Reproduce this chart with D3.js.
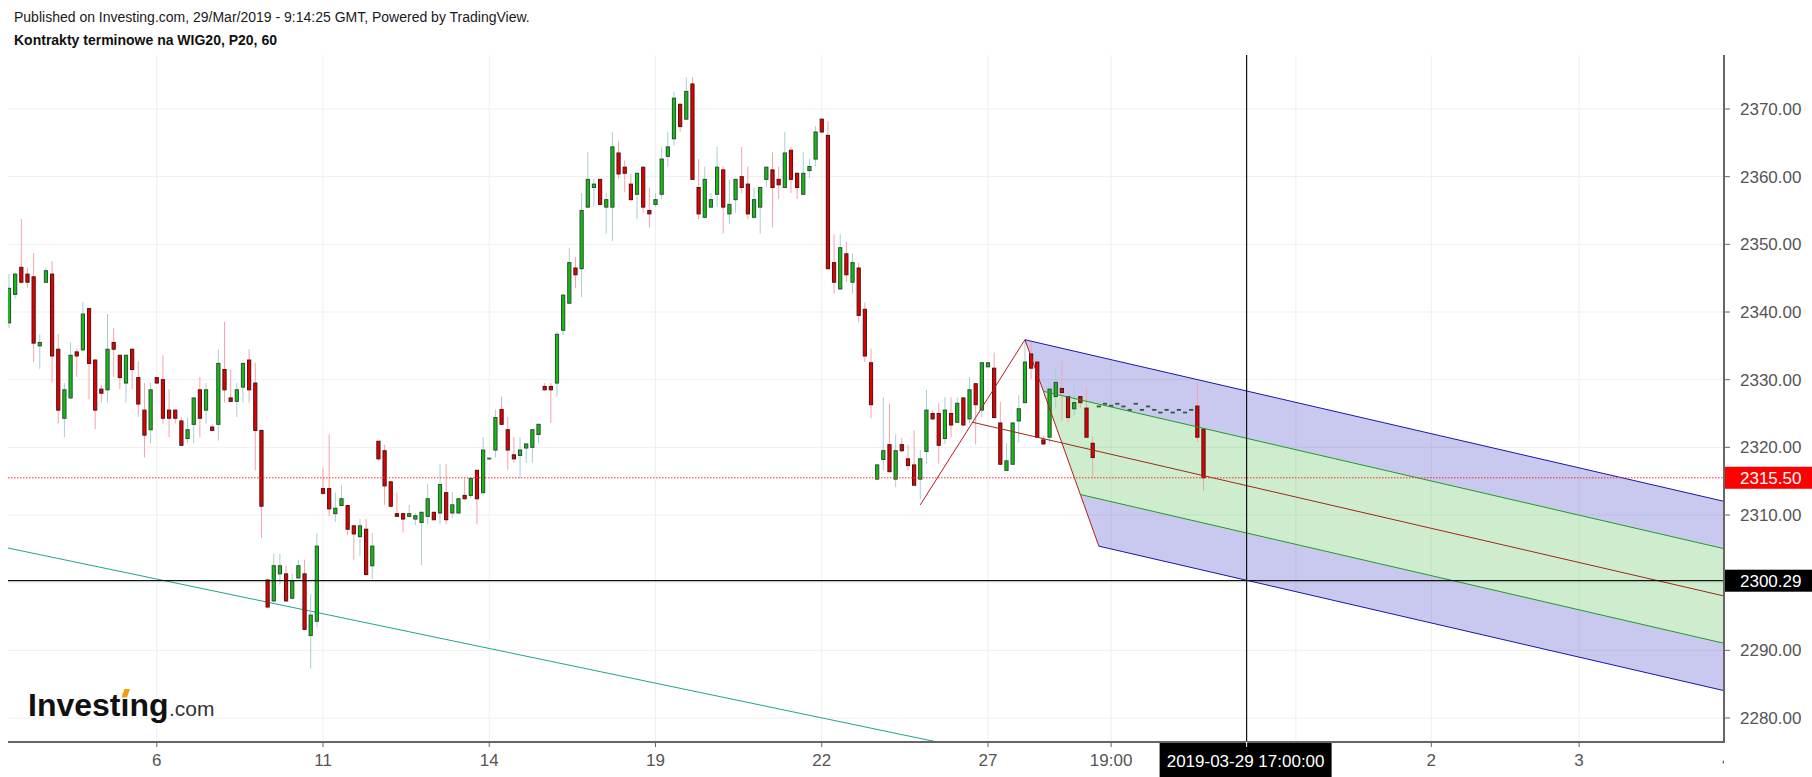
<!DOCTYPE html>
<html><head><meta charset="utf-8">
<script src="https://cdn.jsdelivr.net/npm/d3@7"></script>
<style>
html,body{margin:0;padding:0;background:#fff;}
svg{display:block;font-family:"Liberation Sans",Arial,sans-serif;}
</style></head><body>
<svg id="chart" width="1812" height="777"></svg>
<script>
// ---- data (hourly bars, index = bar number) ----
const opens = [2338.4,2342.6,2346.6,2345.6,2345.2,2335.0,2344.4,2345.6,2334.5,2324.3,2327.3,2334.1,2334.4,2340.5,2332.9,2328.6,2328.5,2335.5,2333.6,2329.5,2334.5,2330.3,2325.5,2322.6,2330.3,2330.0,2325.5,2325.5,2323.9,2321.3,2323.4,2328.5,2325.5,2323.0,2323.4,2331.5,2327.3,2326.8,2328.9,2332.9,2329.5,2322.5,2300.4,2297.3,2301.3,2301.3,2297.7,2300.7,2301.3,2292.2,2294.3,2313.9,2313.9,2310.2,2311.4,2311.4,2308.4,2306.8,2307.9,2302.5,2320.9,2319.5,2314.9,2310.2,2310.2,2309.8,2309.4,2308.9,2309.8,2310.4,2310.3,2313.3,2310.3,2310.3,2312.9,2312.9,2316.6,2313.3,2318.4,2319.6,2325.6,2322.6,2318.9,2318.8,2319.9,2320.0,2321.9,2329.0,2329.0,2329.5,2337.3,2341.3,2346.5,2346.4,2355.5,2358.4,2359.6,2355.5,2355.5,2363.5,2361.4,2358.9,2357.4,2361.4,2355.0,2355.9,2357.4,2363.0,2365.6,2370.7,2368.5,2373.7,2358.4,2354.0,2355.5,2357.4,2361.0,2354.5,2356.6,2360.0,2358.9,2354.0,2355.5,2359.6,2361.0,2359.6,2358.4,2363.9,2360.5,2357.4,2360.9,2362.6,2368.5,2366.1,2347.3,2343.4,2348.6,2344.4,2346.5,2340.4,2332.5,2315.3,2318.2,2320.4,2315.3,2320.4,2318.3,2317.4,2315.3,2319.4,2325.0,2325.0,2321.3,2325.0,2323.7,2327.3,2324.2,2329.4,2325.5,2331.9,2331.7,2323.6,2316.6,2317.5,2323.9,2326.6,2333.8,2332.6,2321.1,2321.5,2327.5,2328.7,2327.5,2325.7,2327.5,2325.8,2320.6,2326.1,2326.5,2326.2,2326.5,2326.1,2325.6,2326.5,2325.6,2326.1,2325.6,2325.2,2325.6,2325.2,2325.6,2325.2,2325.6,2326.1,2322.7];
const highs = [2345.6,2345.8,2353.7,2346.6,2348.7,2336.7,2346.6,2347.5,2336.7,2329.5,2335.5,2334.6,2341.5,2340.6,2333.0,2329.2,2339.7,2337.6,2333.7,2333.7,2334.6,2332.7,2329.5,2329.5,2330.4,2333.6,2328.6,2325.6,2324.4,2324.4,2327.4,2330.4,2329.5,2323.4,2334.5,2338.5,2331.5,2329.5,2332.5,2334.5,2332.5,2322.6,2300.5,2304.3,2304.3,2302.5,2301.3,2303.4,2303.4,2298.3,2307.3,2317.0,2321.9,2313.3,2314.4,2311.5,2308.5,2309.4,2309.4,2307.3,2321.0,2320.4,2315.0,2313.3,2310.3,2311.5,2310.3,2310.5,2314.6,2310.5,2317.5,2317.5,2313.4,2312.5,2315.4,2315.5,2316.7,2321.5,2318.4,2325.6,2327.5,2324.5,2321.5,2321.5,2320.5,2322.7,2323.5,2329.5,2329.5,2337.1,2342.6,2349.5,2348.1,2357.6,2363.6,2359.7,2359.7,2357.6,2366.6,2365.2,2362.4,2360.4,2360.6,2361.5,2358.4,2357.6,2364.4,2366.6,2372.6,2370.8,2374.7,2374.7,2362.6,2361.5,2357.6,2364.4,2361.5,2359.6,2359.7,2364.4,2361.5,2358.4,2358.5,2361.5,2363.6,2361.5,2366.6,2364.4,2360.6,2363.6,2362.6,2367.5,2368.6,2368.2,2351.5,2351.5,2350.4,2348.6,2347.3,2341.4,2334.6,2317.5,2327.4,2326.5,2321.9,2321.4,2320.4,2322.5,2319.6,2328.5,2325.5,2326.5,2327.4,2327.4,2327.4,2327.4,2330.4,2329.5,2332.6,2332.6,2334.0,2326.7,2320.6,2323.7,2327.7,2335.9,2335.6,2333.0,2321.7,2329.7,2331.7,2332.7,2327.6,2329.6,2327.6,2328.7,2321.6,2326.1,2326.5,2326.2,2326.5,2326.1,2325.6,2326.5,2325.6,2326.1,2325.6,2325.2,2325.6,2325.2,2325.6,2325.2,2325.6,2329.6,2322.8];
const lows = [2337.6,2342.0,2344.2,2343.6,2332.6,2331.6,2344.3,2329.6,2323.5,2321.5,2327.2,2330.4,2334.2,2327.1,2322.7,2326.6,2326.6,2330.4,2328.6,2326.6,2328.6,2324.5,2318.5,2320.6,2329.4,2323.5,2321.5,2323.5,2320.2,2320.6,2320.6,2321.5,2323.5,2322.4,2321.0,2326.6,2326.6,2324.5,2326.6,2326.6,2316.6,2306.6,2296.2,2297.0,2299.7,2297.2,2297.5,2300.6,2293.0,2287.3,2293.4,2313.0,2309.8,2309.0,2311.3,2307.0,2303.4,2303.9,2301.0,2300.5,2318.0,2311.5,2311.2,2309.7,2307.4,2309.7,2308.5,2302.6,2308.6,2309.2,2308.6,2308.6,2309.6,2310.2,2312.3,2312.5,2308.6,2313.2,2318.4,2318.5,2323.3,2316.7,2317.7,2315.4,2317.7,2317.7,2320.6,2328.4,2323.6,2327.5,2336.6,2341.2,2343.5,2342.2,2355.4,2355.6,2355.8,2351.6,2350.5,2359.7,2357.7,2356.5,2353.7,2354.7,2352.5,2355.5,2356.7,2361.5,2364.6,2366.6,2368.4,2359.5,2353.7,2353.9,2355.4,2355.5,2351.6,2353.0,2354.7,2357.6,2353.7,2353.7,2351.6,2358.5,2352.5,2356.7,2358.3,2357.6,2356.7,2357.3,2359.8,2361.5,2366.5,2346.3,2342.7,2343.3,2344.4,2342.7,2338.5,2332.6,2324.3,2315.2,2316.6,2316.3,2314.1,2319.3,2316.6,2314.3,2312.3,2317.6,2324.1,2317.6,2320.5,2321.5,2323.6,2323.2,2323.5,2320.4,2324.5,2331.8,2324.3,2317.4,2316.5,2317.4,2320.7,2326.5,2330.1,2321.4,2320.4,2320.7,2325.8,2323.8,2323.7,2324.7,2325.8,2321.4,2315.6,2326.1,2326.5,2326.2,2326.5,2326.1,2325.6,2326.5,2325.6,2326.1,2325.6,2325.2,2325.6,2325.2,2325.6,2325.2,2325.6,2320.7,2313.6];
const closes = [2343.5,2345.6,2344.4,2344.4,2335.4,2335.5,2346.1,2333.5,2325.5,2328.5,2333.6,2333.5,2339.7,2332.4,2325.5,2328.0,2334.5,2334.5,2330.3,2333.6,2331.5,2326.4,2321.8,2328.5,2329.5,2324.3,2324.3,2324.3,2320.3,2322.6,2327.3,2324.3,2328.5,2322.5,2332.4,2328.5,2326.8,2328.5,2332.4,2328.5,2322.5,2311.3,2296.4,2302.5,2302.5,2297.3,2300.3,2302.5,2293.1,2295.2,2305.4,2313.2,2310.9,2311.0,2312.4,2307.9,2307.2,2308.4,2301.2,2305.4,2318.3,2314.3,2311.3,2309.8,2309.4,2310.2,2309.9,2310.4,2312.4,2309.3,2314.5,2309.3,2311.5,2312.4,2312.4,2315.4,2312.4,2319.6,2318.4,2324.4,2323.4,2319.6,2318.3,2319.6,2320.5,2322.6,2323.4,2328.5,2328.5,2336.7,2342.5,2347.3,2345.5,2355.0,2359.6,2358.9,2355.9,2356.6,2364.4,2360.4,2360.5,2356.6,2360.5,2355.5,2354.5,2356.6,2362.6,2364.4,2371.6,2367.4,2372.6,2359.6,2354.5,2359.6,2356.6,2361.4,2355.5,2355.9,2359.6,2358.4,2354.5,2356.6,2358.4,2361.4,2358.4,2358.8,2363.5,2359.6,2358.4,2360.5,2361.5,2366.6,2366.6,2346.4,2344.4,2349.5,2345.5,2347.3,2339.5,2333.5,2326.3,2317.4,2319.5,2316.4,2319.5,2319.5,2317.3,2314.4,2318.3,2325.5,2324.2,2320.3,2325.5,2323.3,2326.5,2323.3,2328.5,2326.3,2332.5,2332.5,2324.4,2317.5,2318.0,2323.6,2325.7,2332.6,2331.7,2321.5,2320.5,2328.6,2329.6,2328.1,2324.4,2326.6,2326.6,2321.5,2318.5,2326.1,2326.5,2326.2,2326.5,2326.1,2325.6,2326.5,2325.6,2326.1,2325.6,2325.2,2325.6,2325.2,2325.6,2325.2,2325.6,2321.5,2315.5];

const yTicks = [2280, 2290, 2300, 2310, 2320, 2330, 2340, 2350, 2360, 2370];
const xTickIndex = [24, 51, 78, 105, 132, 159, 179, 231, 255, 279];
const xTickLabels = ["6", "11", "14", "19", "22", "27", "19:00", "2", "3", "4"];
const xGridExtra = [209];
const lastPrice = 2315.50;
const crossPrice = 2300.29;
const crossIndex = 201;
const crossLabel = "2019-03-29 17:00:00";
const trendIdx = [-1, 152];
const trendVal = [2305.28, 2276.22];
const pitchIdx = [148, 165, 177];
const pitchVal = [2311.5, 2335.9, 2305.4];
const titleLine1 = "Published on Investing.com, 29/Mar/2019 - 9:14:25 GMT, Powered by TradingView.";
const titleLine2 = "Kontrakty terminowe na WIG20, P20, 60";

// ---- layout ----
const L = 8, R = 1724, T = 55, B = 742;
const svg = d3.select("#chart");
const x = d3.scaleLinear().domain([0, 159]).range([9, 988]);
const y = d3.scaleLinear().domain([2280, 2370]).range([718, 109]);

svg.append("rect").attr("width", 1812).attr("height", 777).attr("fill", "#fff");

const defs = svg.append("defs");
defs.append("clipPath").attr("id", "plot").append("rect")
  .attr("x", L).attr("y", T).attr("width", R - L).attr("height", B - T);
defs.append("clipPath").attr("id", "xlab").append("rect")
  .attr("x", 0).attr("y", B).attr("width", R).attr("height", 777 - B);

const plot = svg.append("g").attr("clip-path", "url(#plot)");

// grid
plot.append("g").selectAll("line").data(yTicks).join("line")
  .attr("x1", L).attr("x2", R).attr("y1", d => y(d)).attr("y2", d => y(d))
  .attr("stroke", "#efefef").attr("stroke-width", 1);
plot.append("g").selectAll("line").data(xTickIndex.concat(xGridExtra)).join("line")
  .attr("x1", d => x(d)).attr("x2", d => x(d)).attr("y1", T).attr("y2", B)
  .attr("stroke", "#efefef").attr("stroke-width", 1);

// trend line (teal)
plot.append("line")
  .attr("x1", x(trendIdx[0])).attr("y1", y(trendVal[0]))
  .attr("x2", x(trendIdx[1])).attr("y2", y(trendVal[1]))
  .attr("stroke", "#1fa58e").attr("stroke-width", 1);

// pitchfork geometry (modified Schiff)
const A = {i: pitchIdx[0], v: pitchVal[0]}, Bp = {i: pitchIdx[1], v: pitchVal[1]}, C = {i: pitchIdx[2], v: pitchVal[2]};
const mid = (p, q) => ({i: (p.i + q.i) / 2, v: (p.v + q.v) / 2});
const O = mid(A, Bp), M = mid(Bp, C);
const slope = (M.v - O.v) / (M.i - O.i);
const iEnd = x.invert(R + 2);
const endOf = p => ({i: iEnd, v: p.v + slope * (iEnd - p.i)});
const G1 = mid(Bp, M), G2 = mid(M, C);
const pt = p => [x(p.i), y(p.v)];
const poly = pts => "M" + pts.map(p => pt(p).join(",")).join("L") + "Z";

plot.append("path").attr("d", poly([Bp, endOf(Bp), endOf(G1), G1])).attr("fill", "rgba(60,60,200,0.28)");
plot.append("path").attr("d", poly([G2, endOf(G2), endOf(C), C])).attr("fill", "rgba(60,60,200,0.28)");
plot.append("path").attr("d", poly([G1, endOf(G1), endOf(G2), G2])).attr("fill", "rgba(50,180,50,0.24)");

// candles
const n = closes.length;
const bars = d3.range(n).map(i => ({i, o: opens[i], h: highs[i], l: lows[i], c: closes[i]}));
const cg = plot.append("g");
cg.selectAll("line.w").data(bars).join("line").attr("class", "w")
  .attr("x1", d => x(d.i)).attr("x2", d => x(d.i))
  .attr("y1", d => y(d.h)).attr("y2", d => y(d.l))
  .attr("stroke", d => d.c < d.o ? "#f5a3ad" : "#a9cdd6").attr("stroke-width", 1);
cg.selectAll("rect.b").data(bars).join("rect").attr("class", "b")
  .attr("x", d => x(d.i) - 1.6).attr("width", 3.2)
  .attr("y", d => y(Math.max(d.o, d.c)))
  .attr("height", d => Math.max(0.8, Math.abs(y(d.o) - y(d.c))))
  .attr("fill", d => d.c === d.o ? "#2f5a44" : (d.c < d.o ? "#e20000" : "#10c010"))
  .attr("stroke", d => d.c === d.o ? "#2f5a44" : (d.c < d.o ? "#4d1212" : "#2c4a34"))
  .attr("stroke-width", 1);

// pitchfork lines
const seg = (p, q, col) => plot.append("line")
  .attr("x1", x(p.i)).attr("y1", y(p.v)).attr("x2", x(q.i)).attr("y2", y(q.v))
  .attr("stroke", col).attr("stroke-width", 1);
seg(A, Bp, "#b71c1c");
seg(Bp, C, "#b71c1c");
seg(O, endOf(O), "#9c2a1a");
seg(Bp, endOf(Bp), "#1818a8");
seg(C, endOf(C), "#1818a8");
seg(G1, endOf(G1), "#239a23");
seg(G2, endOf(G2), "#239a23");

// last price dotted line
plot.append("line").attr("x1", L).attr("x2", R).attr("y1", y(lastPrice)).attr("y2", y(lastPrice))
  .attr("stroke", "#ff2a2a").attr("stroke-width", 1).attr("stroke-dasharray", "1.5,1.5");
// crosshair
plot.append("line").attr("x1", L).attr("x2", R).attr("y1", y(crossPrice)).attr("y2", y(crossPrice))
  .attr("stroke", "#111").attr("stroke-width", 1.2);
plot.append("line").attr("x1", x(crossIndex)).attr("x2", x(crossIndex)).attr("y1", T).attr("y2", B)
  .attr("stroke", "#111").attr("stroke-width", 1.2);

// axes
svg.append("line").attr("x1", R).attr("x2", R).attr("y1", T).attr("y2", B + 1)
  .attr("stroke", "#666").attr("stroke-width", 2);
svg.append("line").attr("x1", L).attr("x2", R + 1).attr("y1", B).attr("y2", B)
  .attr("stroke", "#666").attr("stroke-width", 2);

const ya = svg.append("g");
ya.selectAll("line").data(yTicks).join("line")
  .attr("x1", R).attr("x2", R + 6).attr("y1", d => y(d)).attr("y2", d => y(d))
  .attr("stroke", "#666").attr("stroke-width", 1);
ya.selectAll("text").data(yTicks).join("text")
  .attr("x", R + 16).attr("y", d => y(d)).attr("dy", "0.35em")
  .attr("font-size", 17).attr("fill", "#555").text(d => d3.format(".2f")(d));

const xa = svg.append("g").attr("clip-path", "url(#xlab)");
xa.selectAll("line").data(xTickIndex).join("line")
  .attr("x1", d => x(d)).attr("x2", d => x(d)).attr("y1", B).attr("y2", B + 5)
  .attr("stroke", "#666").attr("stroke-width", 1);
xa.selectAll("text").data(xTickIndex).join("text")
  .attr("x", d => x(d)).attr("y", 766).attr("text-anchor", "middle")
  .attr("font-size", 17).attr("fill", "#555").text((d, k) => xTickLabels[k]);

// price labels
function priceTag(v, bg) {
  const g = svg.append("g");
  g.append("rect").attr("x", R + 1).attr("y", y(v) - 11).attr("width", 1812 - R - 1).attr("height", 22).attr("fill", bg);
  g.append("text").attr("x", R + 16).attr("y", y(v)).attr("dy", "0.35em")
    .attr("font-size", 17).attr("fill", "#fff").text(d3.format(".2f")(v));
}
priceTag(lastPrice, "#ff0000");
priceTag(crossPrice, "#000000");

// crosshair date box
const cx = x(crossIndex);
svg.append("rect").attr("x", cx - 87).attr("y", B + 1).attr("width", 172).attr("height", 777 - B - 1).attr("fill", "#000");
svg.append("line").attr("x1", cx).attr("x2", cx).attr("y1", B).attr("y2", B + 5).attr("stroke", "#fff");
svg.append("text").attr("x", cx - 1).attr("y", 767).attr("text-anchor", "middle")
  .attr("font-size", 17).attr("fill", "#fff").text(crossLabel);

// titles
svg.append("text").attr("x", 14).attr("y", 22).attr("font-size", 14).attr("fill", "#1a1a1a").text(titleLine1);
svg.append("text").attr("x", 14).attr("y", 45).attr("font-size", 14).attr("font-weight", "bold").attr("fill", "#111").text(titleLine2);

// logo
const logo = svg.append("g");
logo.append("text").attr("x", 28).attr("y", 716).attr("font-size", 32).attr("font-weight", "bold")
  .attr("fill", "#111").text("Investing");
logo.append("text").attr("x", 169).attr("y", 716).attr("font-size", 21).attr("fill", "#333").text(".com");
logo.append("path").attr("d", "M121,699 L124,688.5 L130.5,688.5 L127.5,699 Z").attr("fill", "#fff");
logo.append("path").attr("d", "M121.5,697.5 L124.5,689 L130,689 L127,697.5 Z").attr("fill", "#f39c12");
</script>
</body></html>
